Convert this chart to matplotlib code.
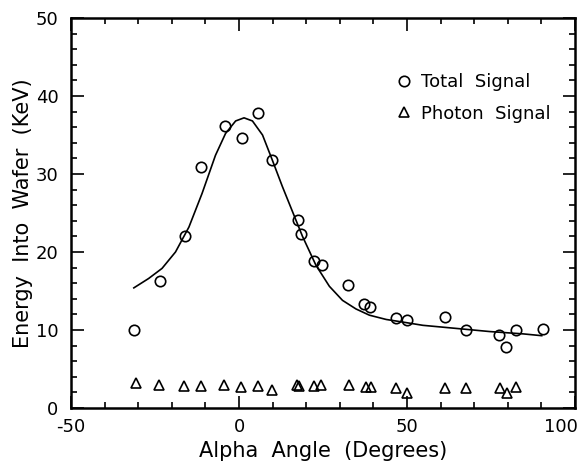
import matplotlib
matplotlib.use("Agg")
import matplotlib.pyplot as plt
from matplotlib.ticker import MultipleLocator
from matplotlib.transforms import blended_transform_factory, ScaledTranslation

# Total signal (circles)
total_angle = [-31.3, -23.6, -16.2, -11.4, -4.2, 1.0, 5.8, 9.8, 17.7, 18.4,
               22.2, 24.6, 32.3, 37.3, 39.0, 46.6, 49.9, 61.4, 67.7, 77.4,
               79.6, 82.4, 90.4]
total_energy = [10.0, 16.3, 22.05, 30.9, 36.2, 34.6, 37.8, 31.8, 24.1, 22.3,
                18.8, 18.3, 15.8, 13.3, 12.9, 11.6, 11.3, 11.7, 10.0, 9.4,
                7.85, 10.0, 10.1]

# Photon signal (triangles)
photon_angle = [-30.8, -23.7, -16.4, -11.3, -4.5, 0.7, 5.7, 9.9, 17.4, 17.9,
                22.4, 24.4, 32.6, 37.8, 39.3, 46.8, 49.9, 61.4, 67.7, 77.6,
                79.8, 82.4]
photon_energy = [3.2, 3.0, 2.86, 2.78, 3.0, 2.73, 2.82, 2.3, 2.9, 2.8,
                 2.78, 2.9, 2.9, 2.73, 2.73, 2.56, 1.9, 2.56, 2.56, 2.56,
                 1.9, 2.73]

# Fitted curve
fit_angle = [-31.3, -26.9, -22.9, -18.9, -14.9, -11.0, -7.0, -4.0, -1.0, 1.5,
             4.0, 7.0, 9.9, 12.9, 15.9, 18.9, 22.9, 26.9, 30.8, 34.8,
             38.8, 43.8, 49.7, 54.7, 64.7, 74.6, 84.6, 90.1]
fit_energy = [15.4, 16.6, 17.9, 20.0, 23.2, 27.5, 32.4, 35.2, 36.8, 37.2,
              36.8, 35.0, 31.8, 28.4, 25.2, 22.0, 18.3, 15.6, 13.8, 12.7,
              11.9, 11.35, 10.95, 10.6, 10.2, 9.8, 9.5, 9.27]

xtick_values = [-50, 0, 50, 100]
xtick_labels = ['-50', '0', '50', '100']

plt.rcParams['font.family'] = ['DejaVu Sans']
plt.rcParams['axes.unicode_minus'] = False

fig = plt.figure(figsize=(5.81, 4.65), dpi=100)
ax = fig.add_axes([0.1222, 0.1226, 0.8675, 0.8387])

ax.plot(fit_angle, fit_energy, color='black', linewidth=1.2)
ax.plot(total_angle, total_energy, linestyle='none', marker='o', markersize=7.5,
        markerfacecolor='none', markeredgecolor='black', markeredgewidth=1.2,
        label='Total  Signal')
ax.plot(photon_angle, photon_energy, linestyle='none', marker='^', markersize=6.5,
        markerfacecolor='none', markeredgecolor='black', markeredgewidth=1.2,
        label='Photon  Signal')

ax.set_xlim(-50, 100)
ax.set_ylim(0, 50)
ax.xaxis.set_major_locator(MultipleLocator(50))
ax.xaxis.set_minor_locator(MultipleLocator(10))
ax.yaxis.set_major_locator(MultipleLocator(10))
ax.yaxis.set_minor_locator(MultipleLocator(2))
ax.tick_params(which='both', direction='in', top=True, right=True,
               labelsize=13, width=1.2)
ax.tick_params(which='major', length=9)
ax.tick_params(which='minor', length=4.5)
ax.tick_params(axis='x', labelbottom=False)
ax.tick_params(axis='y', which='major', pad=9)
for s in ax.spines.values():
    s.set_linewidth(1.8)

# x tick labels drawn as text so "100" can sit inside the figure
xform = blended_transform_factory(ax.transData, ax.transAxes)
for v, lab in zip(xtick_values, xtick_labels):
    if v == xtick_values[-1]:
        ax.text(v, -0.025, lab, ha='right', va='top', fontsize=13,
                transform=xform + ScaledTranslation(3 / 100, 0, fig.dpi_scale_trans))
    else:
        ax.text(v, -0.025, lab, ha='center', va='top', fontsize=13, transform=xform)

ax.set_xlabel('Alpha  Angle  (Degrees)', fontsize=15)
ax.xaxis.set_label_coords(0.5, -0.085)
ax.set_ylabel('Energy  Into  Wafer  (KeV)', fontsize=15)
ax.yaxis.set_label_coords(-0.076, 0.5)

ax.legend(loc='upper right', bbox_to_anchor=(0.965, 0.877), frameon=False,
          borderaxespad=0, fontsize=13, handlelength=1.0, handletextpad=0.4,
          labelspacing=0.75)

fig.savefig('out.png', dpi=100)
